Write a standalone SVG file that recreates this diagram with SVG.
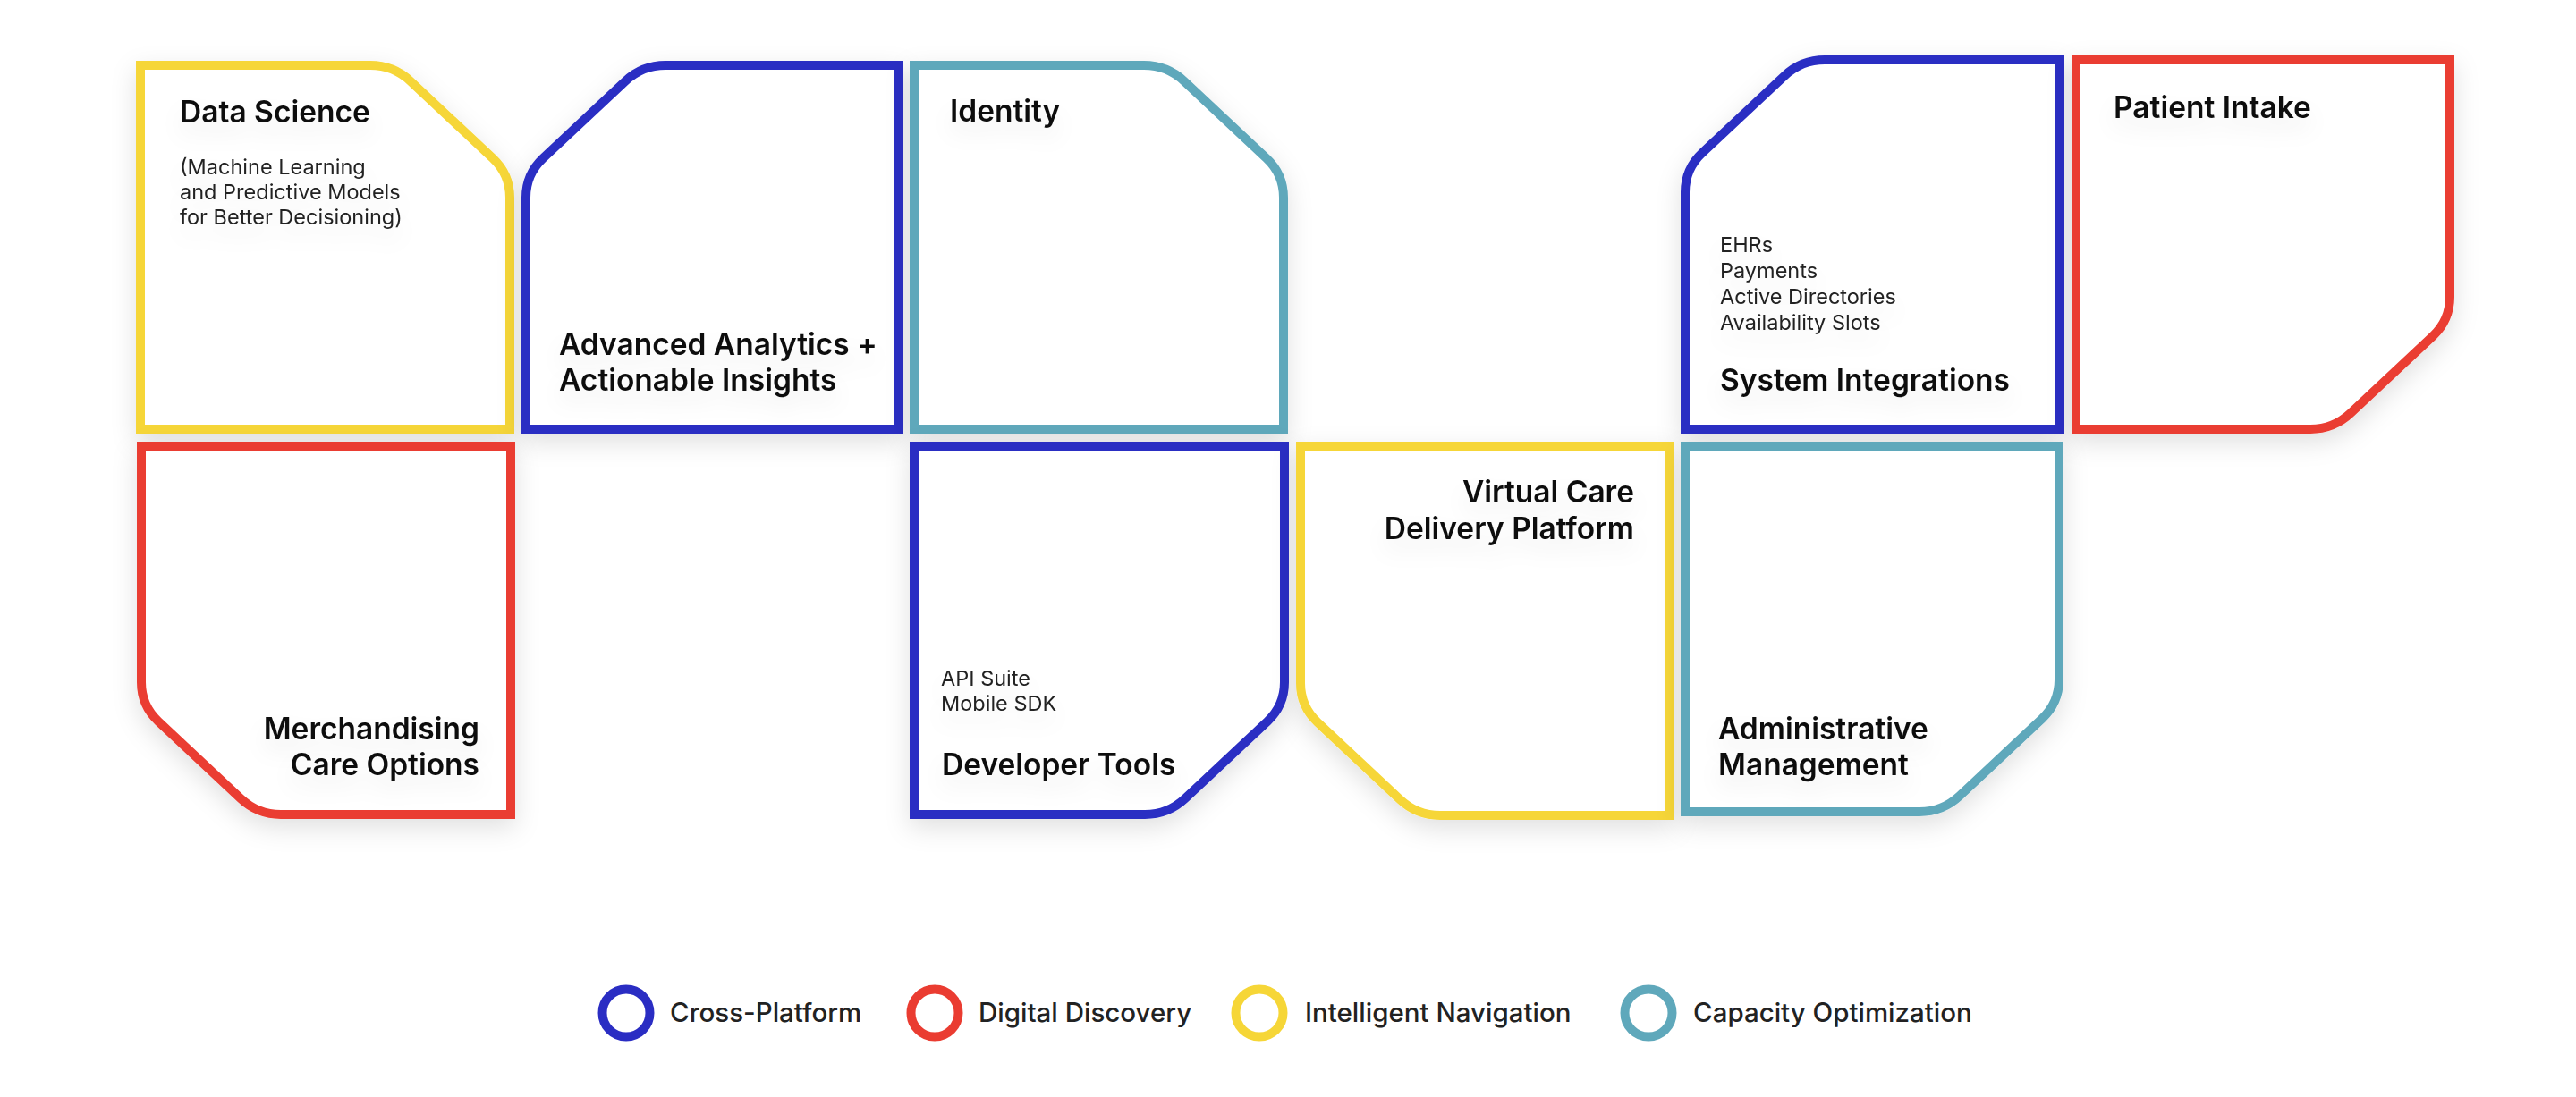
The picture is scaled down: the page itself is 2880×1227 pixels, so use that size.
<svg xmlns="http://www.w3.org/2000/svg" width="2880" height="1227" viewBox="0 0 2880 1227">
<defs>
<filter id="sh" x="-20%" y="-20%" width="140%" height="150%">
<feDropShadow dx="0" dy="10" stdDeviation="14" flood-color="#000" flood-opacity="0.12"/>
</filter>
<filter id="tsh" x="-20%" y="-50%" width="140%" height="250%">
<feDropShadow dx="0" dy="14" stdDeviation="12" flood-color="#000" flood-opacity="0.07"/>
</filter>
</defs>
<style>
.box{fill:#fff;stroke-width:10;stroke-linejoin:miter;filter:url(#sh)}
.y{stroke:#F6D637}.b{stroke:#2A2DC3}.r{stroke:#EA3C31}.t{stroke:#5FA8BB}
.ti{font-family:Inter,"Open Sans","Liberation Sans",sans-serif;font-weight:600;font-size:33.5px;fill:#111;filter:url(#tsh)}
.sub{font-family:Inter,"Open Sans","Liberation Sans",sans-serif;font-weight:400;font-size:23.5px;fill:#222;filter:url(#tsh)}
.lg{font-family:Inter,"Open Sans","Liberation Sans",sans-serif;font-weight:500;font-size:29.5px;fill:#222}
.lc{fill:none;stroke-width:10}
.end{text-anchor:end}
</style>
<rect width="2880" height="1227" fill="#fff"/>
<g id="connectors"></g>
<g id="data-science">
<path class="box y" d="M157 73 H414 Q440 73 458.95 90.8 L551.05 177.2 Q570 195 570 221 V480 H157 Z"/>
<text class="ti" x="201" y="137">Data Science</text>
<text class="sub" x="201" y="195">(Machine Learning</text>
<text class="sub" x="201" y="223">and Predictive Models</text>
<text class="sub" x="201" y="251">for Better Decisioning)</text>
</g>
<g id="advanced-analytics">
<path class="box b" d="M744 73 H1005 V480 H588 V221 Q588 195 606.95 177.2 L699.05 90.8 Q718 73 744 73 Z"/>
<text class="ti" x="625" y="397">Advanced Analytics +</text>
<text class="ti" x="625" y="437">Actionable Insights</text>
</g>
<g id="identity">
<path class="box t" d="M1022 73 H1279 Q1305 73 1323.95 90.8 L1416.05 177.2 Q1435 195 1435 221 V480 H1022 Z"/>
<text class="ti" x="1062" y="136">Identity</text>
</g>
<g id="system-integrations">
<path class="box b" d="M2040 67 H2303 V480 H1884 V215 Q1884 189 1902.95 171.2 L1995.05 84.8 Q2014 67 2040 67 Z"/>
<text class="sub" x="1923" y="282">EHRs</text>
<text class="sub" x="1923" y="311">Payments</text>
<text class="sub" x="1923" y="340">Active Directories</text>
<text class="sub" x="1923" y="369">Availability Slots</text>
<text class="ti" x="1923" y="437">System Integrations</text>
</g>
<g id="patient-intake">
<path class="box r" d="M2321 67 H2739 V332 Q2739 358 2720.05 375.8 L2627.95 462.2 Q2609 480 2583 480 H2321 Z"/>
<text class="ti" x="2363" y="132">Patient Intake</text>
</g>
<g id="merchandising">
<path class="box r" d="M158 499 H571 V911 H314 Q288 911 269.05 893.2 L176.95 806.8 Q158 789 158 763 Z"/>
<text class="ti end" x="536" y="827">Merchandising</text>
<text class="ti end" x="536" y="867">Care Options</text>
</g>
<g id="developer-tools">
<path class="box b" d="M1022 499 H1436 V763 Q1436 789 1417.05 806.8 L1324.95 893.2 Q1306 911 1280 911 H1022 Z"/>
<text class="sub" x="1052" y="767">API Suite</text>
<text class="sub" x="1052" y="795">Mobile SDK</text>
<text class="ti" x="1053" y="867">Developer Tools</text>
</g>
<g id="virtual-care">
<path class="box y" d="M1454 499 H1867 V912 H1610 Q1584 912 1565.05 894.2 L1472.95 807.8 Q1454 790 1454 764 Z"/>
<text class="ti end" x="1827" y="562">Virtual Care</text>
<text class="ti end" x="1827" y="603">Delivery Platform</text>
</g>
<g id="administrative-management">
<path class="box t" d="M1884 499 H2302 V760 Q2302 786 2283.05 803.8 L2190.95 890.2 Q2172 908 2146 908 H1884 Z"/>
<text class="ti" x="1921" y="827">Administrative</text>
<text class="ti" x="1921" y="867">Management</text>
</g>
<g id="legend">
<circle class="lc b" cx="700" cy="1133" r="26.5"/>
<text class="lg" x="749" y="1143">Cross-Platform</text>
<circle class="lc r" cx="1045" cy="1133" r="26.5"/>
<text class="lg" x="1094" y="1143">Digital Discovery</text>
<circle class="lc y" cx="1408" cy="1133" r="26.5"/>
<text class="lg" x="1459" y="1143">Intelligent Navigation</text>
<circle class="lc t" cx="1843" cy="1133" r="26.5"/>
<text class="lg" x="1893" y="1143">Capacity Optimization</text>
</g>
</svg>
